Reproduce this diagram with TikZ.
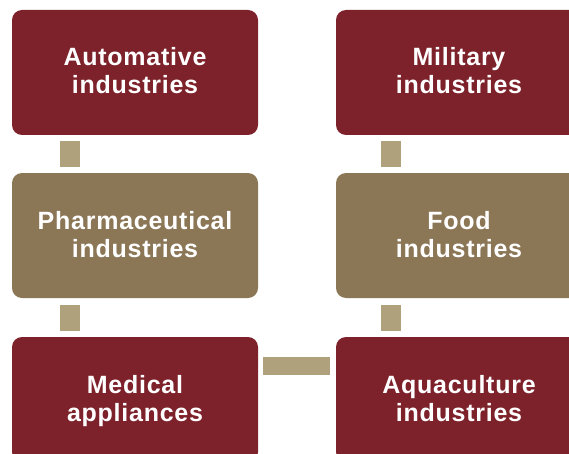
\documentclass[tikz,border=0pt]{standalone}
\usepackage{fontspec}
\setmainfont{Liberation Sans}[LetterSpace=3]
\definecolor{boxred}{RGB}{125,33,42}
\definecolor{boxtan}{RGB}{139,118,86}
\definecolor{linktan}{RGB}{174,161,124}
\newcommand\topstrut{\rule{0pt}{22pt}}
\newcommand\botstrut{\rule[-7pt]{0pt}{7pt}}
\begin{document}
\begin{tikzpicture}[x=1pt,y=1pt,
  procbox/.style={rounded corners=10pt, minimum width=246pt, minimum height=125pt,
    inner sep=0pt, text=white, align=center,
    font=\fontsize{25}{28}\selectfont\bfseries},
  redbox/.style={procbox, fill=boxred},
  tanbox/.style={procbox, fill=boxtan},
  linkv/.style={fill=linktan, minimum width=20pt, minimum height=25.5pt, inner sep=0pt},
  linkh/.style={fill=linktan, minimum width=67pt, minimum height=18pt, inner sep=0pt}]
\useasboundingbox (0,0) rectangle (569,453);
\clip (0,0) rectangle (569,453);
\node[redbox] (auto) at (135,380.5) {\topstrut Automative\\\botstrut industries};
\node[tanbox] (pharm) at (135,217.5) {\topstrut Pharmaceutical\\\botstrut industries};
\node[redbox] (med) at (135,53.5) {\topstrut Medical\\\botstrut appliances};
\node[redbox] (mil) at (459,380.5) {\topstrut Military\\\botstrut industries};
\node[tanbox] (food) at (459,217.5) {\topstrut Food\\\botstrut industries};
\node[redbox] (aqua) at (459,53.5) {\topstrut Aquaculture\\\botstrut industries};
\node[linkv] (l1) at (70,299) {};
\node[linkv] (l2) at (70,135) {};
\node[linkv] (l3) at (391,299) {};
\node[linkv] (l4) at (391,135) {};
\node[linkh] (l5) at (296.5,87) {};
\end{tikzpicture}
\end{document}
